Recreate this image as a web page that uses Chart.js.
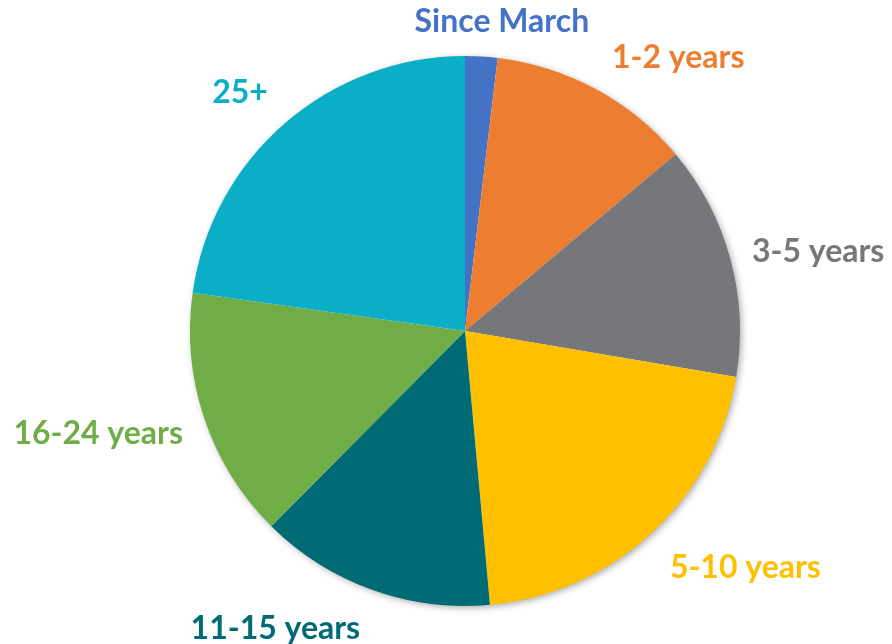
<!DOCTYPE html>
<html>
<head>
<meta charset="utf-8">
<script src="https://cdn.jsdelivr.net/npm/chart.js@4"></script>
<style>
  html, body { margin: 0; padding: 0; background: #ffffff; }
  #wrap { width: 892px; height: 644px; }
</style>
</head>
<body>
<div id="wrap"><canvas id="c" width="892" height="644"></canvas></div>
<script>
const categories = ["Since March", "1-2 years", "3-5 years", "5-10 years", "11-15 years", "16-24 years", "25+"];
const shares = [1.9, 12.0, 13.8, 20.9, 13.9, 14.8, 22.8];
const sliceColors = ["#4472C4", "#ED7D31", "#76777B", "#FFC000", "#006B75", "#70AD47", "#0AAFC7"];

// label placement tweaks (relative to each slice's mid-angle), degrees and radius multiples
const labelDelta = [3.4, 9.5, 2.6, -7, 12.7, 3, -2.3];
const labelDist = [1.131, 1.262, 1.316, 1.335, 1.284, 1.385, 1.193];

const shadowPlugin = {
  id: 'pieShadow',
  beforeDatasetsDraw(chart) {
    const arc = chart.getDatasetMeta(0).data[0];
    if (!arc) return;
    const ctx = chart.ctx;
    ctx.save();
    ctx.shadowColor = 'rgba(0,0,0,0.35)';
    ctx.shadowBlur = 7;
    ctx.shadowOffsetX = 2;
    ctx.shadowOffsetY = 2;
    ctx.fillStyle = '#ffffff';
    ctx.beginPath();
    ctx.arc(arc.x, arc.y, arc.outerRadius - 0.5, 0, Math.PI * 2);
    ctx.fill();
    ctx.restore();
  }
};

const labelPlugin = {
  id: 'outLabels',
  afterDatasetsDraw(chart) {
    const ctx = chart.ctx;
    const meta = chart.getDatasetMeta(0);
    ctx.save();
    ctx.font = 'bold 32px Lato';
    ctx.textAlign = 'center';
    ctx.textBaseline = 'middle';
    meta.data.forEach((arc, i) => {
      const mid = (arc.startAngle + arc.endAngle) / 2 + labelDelta[i] * Math.PI / 180;
      const d = arc.outerRadius * labelDist[i];
      const x = arc.x + Math.cos(mid) * d;
      const y = arc.y + Math.sin(mid) * d;
      ctx.fillStyle = sliceColors[i];
      ctx.fillText(categories[i], x, y);
    });
    ctx.restore();
  }
};

new Chart(document.getElementById('c'), {
  type: 'pie',
  data: {
    labels: categories,
    datasets: [{
      data: shares,
      backgroundColor: sliceColors,
      borderWidth: 0
    }]
  },
  options: {
    responsive: false,
    animation: false,
    layout: { padding: { top: 56, bottom: 38, left: 190, right: 152 } },
    plugins: {
      legend: { display: false },
      tooltip: { enabled: false }
    }
  },
  plugins: [shadowPlugin, labelPlugin]
});
</script>
</body>
</html>
